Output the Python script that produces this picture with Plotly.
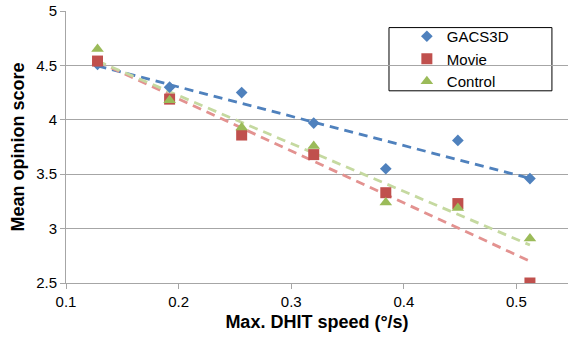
import numpy as np
import plotly.graph_objects as go

speed = [0.128, 0.192, 0.256, 0.320, 0.384, 0.448, 0.512]
gacs3d = [4.51, 4.30, 4.25, 3.97, 3.55, 3.81, 3.46]
movie = [4.54, 4.19, 3.86, 3.68, 3.33, 3.23, 2.50]
control = [4.65, 4.18, 3.93, 3.76, 3.24, 3.19, 2.91]

series = [
    ("GACS3D", gacs3d, "#4F81BD", "#4F81BD", "diamond", 9),
    ("Movie", movie, "#C0504D", "#E39290", "square", 11),
    ("Control", control, "#9BBB59", "#C5D9A0", "triangle-up", 11),
]

FONT = "Liberation Sans, Arial, sans-serif"
fig = go.Figure()

# trendlines (linear fits) first so markers sit on top
for name, ys, mc, lc, sym, sz in series:
    k, b = np.polyfit(speed, ys, 1)
    xs = np.array([min(speed), max(speed)])
    fig.add_trace(go.Scatter(x=xs, y=k * xs + b, mode="lines",
                             line=dict(color=lc, width=2.8, dash="9px,6px"),
                             showlegend=False, hoverinfo="skip"))

for name, ys, mc, lc, sym, sz in series:
    fig.add_trace(go.Scatter(x=speed, y=ys, mode="markers", name=name,
                             marker=dict(symbol=sym, size=sz, color=mc,
                                         line=dict(width=0))))

grid = "#A6A6A6"
fig.update_layout(
    width=568, height=337,
    margin=dict(l=66, r=0, t=11, b=54),
    paper_bgcolor="white", plot_bgcolor="white",
    font=dict(family=FONT, size=15, color="#000000"),
    xaxis=dict(range=[0.1, 0.5458], tickvals=[0.1, 0.2, 0.3, 0.4, 0.5],
               ticktext=["0.1", "0.2", "0.3", "0.4", "0.5"],
               showgrid=False, zeroline=False, showline=True, linecolor=grid,
               linewidth=1, ticks="outside", ticklen=5, tickcolor=grid,
               title=dict(text="<b>Max. DHIT speed (°/s)</b>", standoff=6),
               automargin=False),
    yaxis=dict(range=[2.5, 5], tickvals=[2.5, 3, 3.5, 4, 4.5, 5],
               ticktext=["2.5", "3", "3.5", "4", "4.5", "5"],
               showgrid=True, gridcolor=grid, gridwidth=1, zeroline=False,
               showline=True, linecolor=grid, linewidth=1,
               ticks="outside", ticklen=5, tickcolor=grid,
               title=dict(text="<b>Mean opinion score</b>", standoff=6),
               automargin=False),
    legend=dict(x=0.679, y=0.967, xanchor="left", yanchor="top",
                bgcolor="rgba(0,0,0,0)", borderwidth=0,
                font=dict(family=FONT, size=15), tracegroupgap=0),
    shapes=[dict(type="rect", xref="paper", yref="paper",
                 x0=0.6434, x1=0.968, y0=0.7066, y1=0.939,
                 line=dict(color="#000000", width=1), fillcolor="white",
                 layer="between")],
)

fig.write_html("out.html")
